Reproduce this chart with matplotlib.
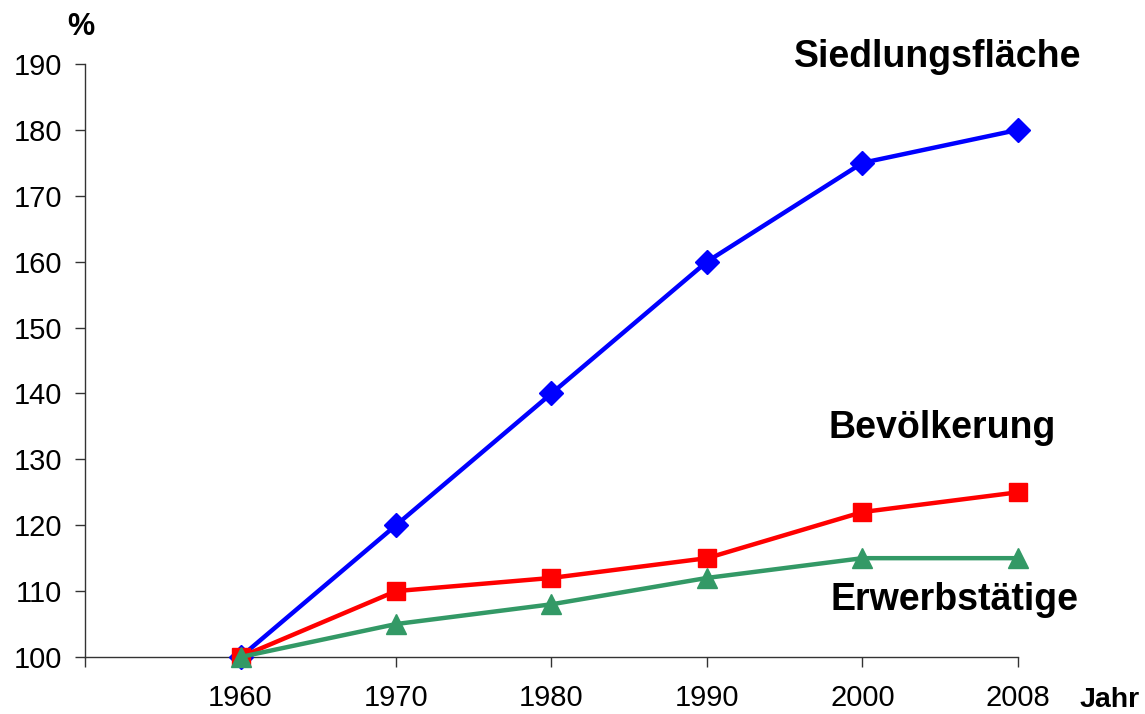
import matplotlib.pyplot as plt

plt.rcParams['font.family'] = ['Liberation Sans', 'DejaVu Sans']

years = ['', '1960', '1970', '1980', '1990', '2000', '2008']
siedlung = [100, 120, 140, 160, 175, 180]
bevoelkerung = [100, 110, 112, 115, 122, 125]
erwerb = [100, 105, 108, 112, 115, 115]
y_ticks = [100, 110, 120, 130, 140, 150, 160, 170, 180, 190]

fig = plt.figure(figsize=(11.45, 7.14), dpi=100)
ax = fig.add_axes([85 / 1145, 1 - 657 / 714, (1018 - 85) / 1145, (657 - 64) / 714])

x = list(range(1, len(years)))
ax.plot(x, siedlung, color='#0000ff', lw=3.2, marker='D', ms=12, clip_on=False, zorder=3)
ax.plot(x, bevoelkerung, color='#ff0000', lw=3.2, marker='s', ms=13, clip_on=False, zorder=4)
ax.plot(x, erwerb, color='#339966', lw=3.2, marker='^', ms=15, clip_on=False, zorder=5)

ax.set_xlim(0, len(years) - 1)
ax.set_ylim(100, 190)
ax.set_xticks(range(len(years)))
ax.set_xticklabels(years)
ax.set_yticks(y_ticks)
ax.tick_params(axis='both', labelsize=21, length=7.5, width=1, color='#333333', direction='out')
ax.tick_params(axis='x', pad=12)
ax.tick_params(axis='y', pad=9)
for s in ['top', 'right']:
    ax.spines[s].set_visible(False)
for s in ['left', 'bottom']:
    ax.spines[s].set_color('#333333')
    ax.spines[s].set_linewidth(1)

fig.text(81 / 1145, 1 - 27 / 714, '%', fontsize=22, fontweight='bold', ha='center', va='center')
fig.text(1140 / 1145, 1 - 700 / 714, 'Jahr', fontsize=20.5, fontweight='bold', ha='right', va='center')
fig.text(938 / 1145, 1 - 57 / 714, 'Siedlungsfläche', fontsize=27, fontweight='bold', ha='center', va='center')
fig.text(942 / 1145, 1 - 428 / 714, 'Bevölkerung', fontsize=27, fontweight='bold', ha='center', va='center')
fig.text(955 / 1145, 1 - 600 / 714, 'Erwerbstätige', fontsize=27, fontweight='bold', ha='center', va='center')

fig.savefig('out.png', dpi=100)
